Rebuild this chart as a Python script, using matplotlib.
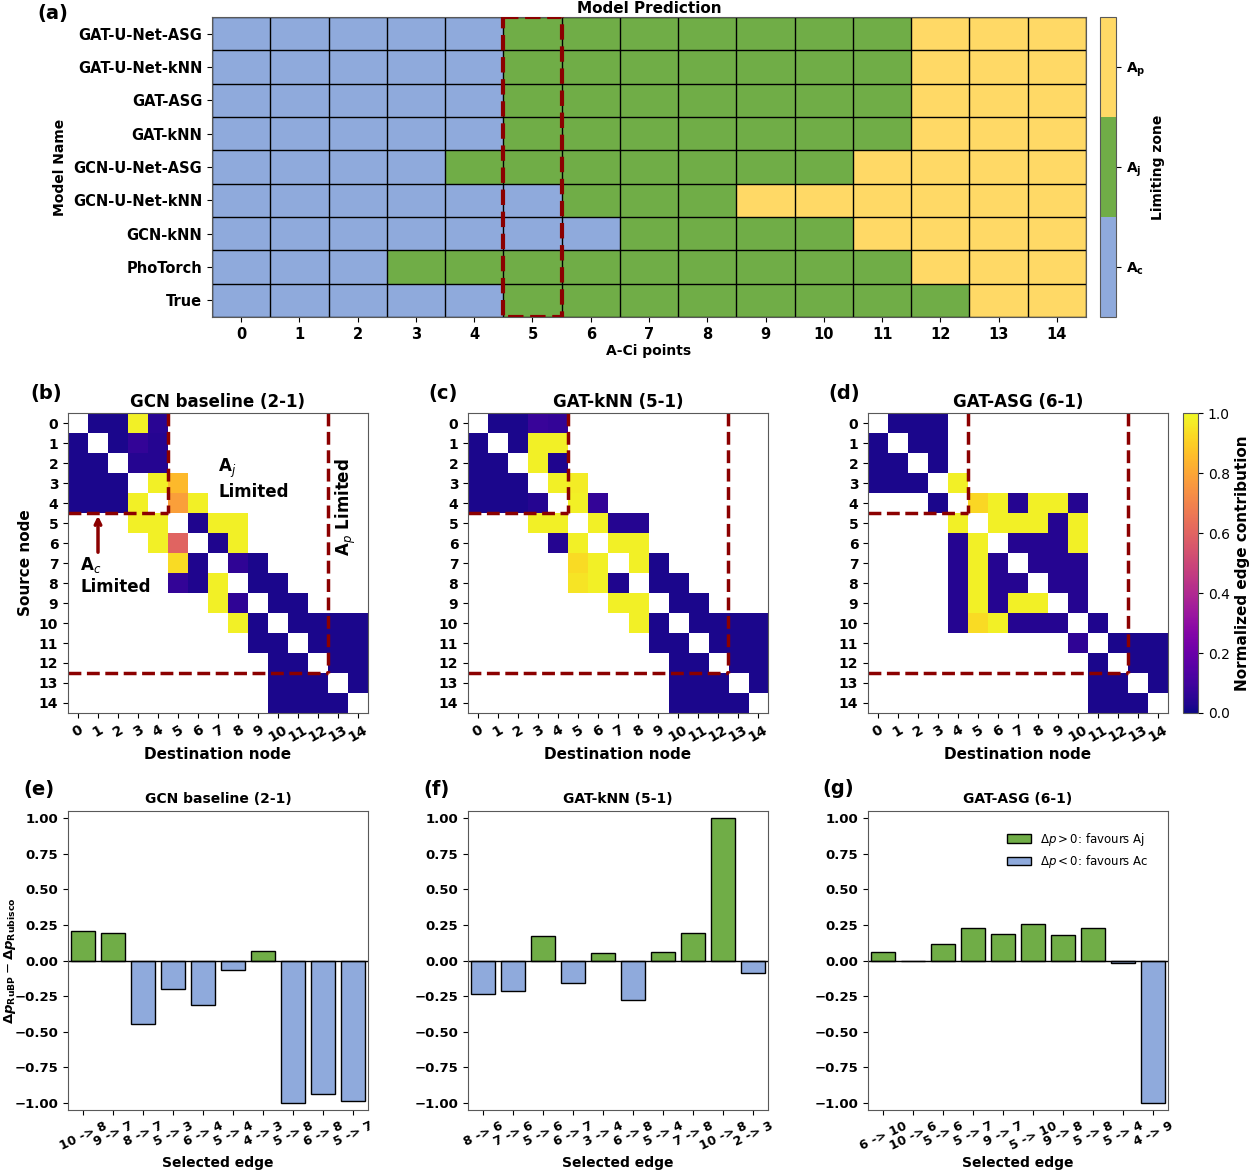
import numpy as np
import matplotlib
matplotlib.use("Agg")
import matplotlib.pyplot as plt
from matplotlib.colors import ListedColormap
from matplotlib.patches import Rectangle, Patch

# ============================================
# DATA
# ============================================

model_names = ["GAT-U-Net-ASG", "GAT-U-Net-kNN", "GAT-ASG", "GAT-kNN",
               "GCN-U-Net-ASG", "GCN-U-Net-kNN", "GCN-kNN", "PhoTorch", "True"]

# 0 = Ac, 1 = Aj, 2 = Ap for each A-Ci point 0..14
zones = [
    [0, 0, 0, 0, 0, 1, 1, 1, 1, 1, 1, 1, 2, 2, 2],
    [0, 0, 0, 0, 0, 1, 1, 1, 1, 1, 1, 1, 2, 2, 2],
    [0, 0, 0, 0, 0, 1, 1, 1, 1, 1, 1, 1, 2, 2, 2],
    [0, 0, 0, 0, 0, 1, 1, 1, 1, 1, 1, 1, 2, 2, 2],
    [0, 0, 0, 0, 1, 1, 1, 1, 1, 1, 1, 2, 2, 2, 2],
    [0, 0, 0, 0, 0, 0, 1, 1, 1, 2, 2, 2, 2, 2, 2],
    [0, 0, 0, 0, 0, 0, 0, 1, 1, 1, 1, 2, 2, 2, 2],
    [0, 0, 0, 1, 1, 1, 1, 1, 1, 1, 1, 1, 2, 2, 2],
    [0, 0, 0, 0, 0, 1, 1, 1, 1, 1, 1, 1, 1, 2, 2],
]
zone_labels = [r"$\mathbf{A_c}$", r"$\mathbf{A_j}$", r"$\mathbf{A_p}$"]

n = np.nan

# normalized edge contribution, rows = source node, cols = destination node
gcn_edges = [
    [n, .02, .02, .98, .05, n, n, n, n, n, n, n, n, n, n],
    [.02, n, .02, .07, .04, n, n, n, n, n, n, n, n, n, n],
    [.02, .02, n, .04, .04, n, n, n, n, n, n, n, n, n, n],
    [.02, .02, .02, n, .98, .85, n, n, n, n, n, n, n, n, n],
    [.02, .02, .02, .98, n, .78, .98, n, n, n, n, n, n, n, n],
    [n, n, n, .98, .98, n, .03, .98, .98, n, n, n, n, n, n],
    [n, n, n, n, .98, .60, n, .03, .98, n, n, n, n, n, n],
    [n, n, n, n, n, .93, .03, n, .06, .02, n, n, n, n, n],
    [n, n, n, n, n, .07, .03, .98, n, .02, .02, n, n, n, n],
    [n, n, n, n, n, n, n, .98, .06, n, .02, .02, n, n, n],
    [n, n, n, n, n, n, n, n, .98, .02, n, .02, .02, .02, .02],
    [n, n, n, n, n, n, n, n, n, .02, .02, n, .02, .02, .02],
    [n, n, n, n, n, n, n, n, n, n, .02, .02, n, .02, .02],
    [n, n, n, n, n, n, n, n, n, n, .02, .02, .02, n, .02],
    [n, n, n, n, n, n, n, n, n, n, .02, .02, .02, .02, n],
]

gat_knn_edges = [
    [n, .02, .02, .08, .07, n, n, n, n, n, n, n, n, n, n],
    [.02, n, .02, .98, .98, n, n, n, n, n, n, n, n, n, n],
    [.02, .02, n, .98, .03, n, n, n, n, n, n, n, n, n, n],
    [.02, .02, .02, n, .98, .97, n, n, n, n, n, n, n, n, n],
    [.02, .02, .02, .04, n, .98, .07, n, n, n, n, n, n, n, n],
    [n, n, n, .98, .98, n, .98, .04, .04, n, n, n, n, n, n],
    [n, n, n, n, .04, .98, n, .98, .98, n, n, n, n, n, n],
    [n, n, n, n, n, .93, .98, n, .98, .02, n, n, n, n, n],
    [n, n, n, n, n, .95, .98, .03, n, .02, .02, n, n, n, n],
    [n, n, n, n, n, n, n, .98, .98, n, .02, .02, n, n, n],
    [n, n, n, n, n, n, n, n, .98, .02, n, .02, .02, .02, .02],
    [n, n, n, n, n, n, n, n, n, .02, .02, n, .02, .02, .02],
    [n, n, n, n, n, n, n, n, n, n, .02, .02, n, .02, .02],
    [n, n, n, n, n, n, n, n, n, n, .02, .02, .02, n, .02],
    [n, n, n, n, n, n, n, n, n, n, .02, .02, .02, .02, n],
]

gat_asg_edges = [
    [n, .02, .02, .02, n, n, n, n, n, n, n, n, n, n, n],
    [.02, n, .02, .02, n, n, n, n, n, n, n, n, n, n, n],
    [.02, .02, n, .02, n, n, n, n, n, n, n, n, n, n, n],
    [.02, .02, .02, n, .98, n, n, n, n, n, n, n, n, n, n],
    [n, n, n, .02, n, .92, .98, .04, .98, .98, .04, n, n, n, n],
    [n, n, n, n, .98, n, .98, .98, .98, .04, .98, n, n, n, n],
    [n, n, n, n, .04, .98, n, .04, .04, .04, .98, n, n, n, n],
    [n, n, n, n, .04, .98, .04, n, .04, .04, .04, n, n, n, n],
    [n, n, n, n, .04, .98, .04, .04, n, .04, .04, n, n, n, n],
    [n, n, n, n, .04, .98, .04, .98, .98, n, .04, n, n, n, n],
    [n, n, n, n, .04, .93, .98, .04, .04, .04, n, .03, n, n, n],
    [n, n, n, n, n, n, n, n, n, n, .06, n, .02, .02, .02],
    [n, n, n, n, n, n, n, n, n, n, n, .02, n, .02, .02],
    [n, n, n, n, n, n, n, n, n, n, n, .02, .02, n, .02],
    [n, n, n, n, n, n, n, n, n, n, n, .02, .02, .02, n],
]

heat_titles = ["GCN baseline (2-1)", "GAT-kNN (5-1)", "GAT-ASG (6-1)"]

gcn_bar_edges = ["10 -> 8", "9 -> 7", "8 -> 7", "5 -> 3", "6 -> 4",
                 "5 -> 4", "4 -> 3", "5 -> 8", "6 -> 8", "5 -> 7"]
gcn_bar_vals = [0.21, 0.19, -0.445, -0.203, -0.315, -0.07, 0.07, -1.0, -0.935, -0.986]

gat_knn_bar_edges = ["8 -> 6", "7 -> 6", "5 -> 6", "6 -> 7", "3 -> 4",
                     "6 -> 8", "5 -> 4", "7 -> 8", "10 -> 8", "2 -> 3"]
gat_knn_bar_vals = [-0.238, -0.212, 0.175, -0.161, 0.051, -0.277, 0.063, 0.196, 1.0, -0.089]

gat_asg_bar_edges = ["6 -> 10", "10 -> 6", "5 -> 6", "5 -> 7", "9 -> 7",
                     "5 -> 10", "9 -> 8", "5 -> 8", "5 -> 4", "4 -> 9"]
gat_asg_bar_vals = [0.058, -0.005, 0.119, 0.231, 0.184, 0.254, 0.18, 0.231, -0.019, -1.0]

# ============================================
# STYLE
# ============================================

plt.rcParams["font.family"] = "DejaVu Sans"
plt.rcParams["axes.labelweight"] = "bold"
plt.rcParams["axes.titleweight"] = "bold"

AC_COL = "#8faadc"
AJ_COL = "#70ad47"
AP_COL = "#ffd966"
RED = "#8b0000"
SPINE = "0.35"

W, H = 1256, 1170
fig = plt.figure(figsize=(W / 100, H / 100), dpi=100)


def box(left, top, right, bottom):
    return [left / W, 1 - bottom / H, (right - left) / W, (bottom - top) / H]


def grey_spines(ax):
    for s in ax.spines.values():
        s.set_color(SPINE)


def bold_ticks(ax):
    for lbl in ax.get_xticklabels() + ax.get_yticklabels():
        lbl.set_fontweight("bold")


# ============================================
# (a) MODEL PREDICTION
# ============================================

ax_a = fig.add_axes(box(212, 17, 1086, 317))
zone_cmap = ListedColormap([AC_COL, AJ_COL, AP_COL])
im_a = ax_a.imshow(np.array(zones), cmap=zone_cmap, vmin=-0.5, vmax=2.5,
                   aspect="auto", interpolation="nearest")
ax_a.set_xticks(np.arange(15))
ax_a.set_yticks(np.arange(len(model_names)))
ax_a.set_yticklabels(model_names)
ax_a.set_xticks(np.arange(-0.5, 15, 1), minor=True)
ax_a.set_yticks(np.arange(-0.5, len(model_names), 1), minor=True)
ax_a.grid(which="minor", color="black", linewidth=1)
ax_a.tick_params(which="minor", length=0)
ax_a.tick_params(labelsize=10.5)
ax_a.set_xlabel("A-Ci points", fontsize=10, labelpad=2)
ax_a.set_ylabel("Model Name", fontsize=10)
ax_a.set_title("Model Prediction", fontsize=11, pad=3)
ax_a.add_patch(Rectangle((4.5, -0.5), 1, len(model_names), fill=False,
                         edgecolor=RED, linewidth=3, linestyle="--", zorder=5))
bold_ticks(ax_a)
grey_spines(ax_a)

cax_a = fig.add_axes(box(1100, 17, 1116, 317))
cb_a = fig.colorbar(im_a, cax=cax_a, ticks=[0, 1, 2])
cb_a.ax.set_yticklabels(zone_labels, fontsize=10)
cb_a.set_label("Limiting zone", fontsize=10)
cb_a.outline.set_edgecolor(SPINE)

# ============================================
# (b)-(d) EDGE CONTRIBUTION HEATMAPS
# ============================================

cmap = plt.get_cmap("plasma").copy()
cmap.set_bad("white")

heat_data = [gcn_edges, gat_knn_edges, gat_asg_edges]
heat_lefts = [68, 468, 868]
heat_axes = []
for i, (mat, title, left) in enumerate(zip(heat_data, heat_titles, heat_lefts)):
    ax = fig.add_axes(box(left, 413, left + 300, 713))
    im = ax.imshow(np.ma.masked_invalid(np.array(mat)), cmap=cmap,
                   vmin=0, vmax=1, interpolation="nearest")
    ax.set_xticks(np.arange(15))
    ax.set_yticks(np.arange(15))
    ax.set_xticklabels([str(k) for k in range(15)], rotation=30, fontsize=10)
    ax.tick_params(axis="y", labelsize=10)
    ax.set_xlabel("Destination node", fontsize=11, labelpad=2)
    if i == 0:
        ax.set_ylabel("Source node", fontsize=11)
    ax.set_title(title, fontsize=12, pad=4)
    # limiting zone boundaries
    ax.plot([-0.5, 4.5], [4.5, 4.5], color=RED, lw=2.5, ls="--")
    ax.plot([4.5, 4.5], [-0.5, 4.5], color=RED, lw=2.5, ls="--")
    ax.plot([-0.5, 12.5], [12.5, 12.5], color=RED, lw=2.5, ls="--")
    ax.plot([12.5, 12.5], [-0.5, 12.5], color=RED, lw=2.5, ls="--")
    ax.set_xlim(-0.5, 14.5)
    ax.set_ylim(14.5, -0.5)
    bold_ticks(ax)
    grey_spines(ax)
    heat_axes.append(ax)

ax_b = heat_axes[0]
ax_b.text(7.0, 1.7, "A$_j$\nLimited", fontsize=12, fontweight="bold",
          va="top", ha="left")
ax_b.text(0.1, 6.6, "A$_c$\nLimited", fontsize=12, fontweight="bold",
          va="top", ha="left")
ax_b.text(13.4, 4.2, "A$_p$ Limited", fontsize=12, fontweight="bold",
          rotation=90, va="center", ha="center")
ax_b.annotate("", xy=(1.0, 4.5), xytext=(1.0, 6.6),
              arrowprops=dict(arrowstyle="->", color=RED, lw=2.5))

cax_h = fig.add_axes(box(1183, 413, 1198, 713))
cb_h = fig.colorbar(im, cax=cax_h, ticks=[0, 0.2, 0.4, 0.6, 0.8, 1.0])
cb_h.ax.set_yticklabels(["0.0", "0.2", "0.4", "0.6", "0.8", "1.0"], fontsize=10)
cb_h.set_label("Normalized edge contribution", fontsize=11)
cb_h.outline.set_edgecolor(SPINE)

# ============================================
# (e)-(g) EDGE PERTURBATION BARS
# ============================================

bar_edges = [gcn_bar_edges, gat_knn_bar_edges, gat_asg_bar_edges]
bar_vals = [gcn_bar_vals, gat_knn_bar_vals, gat_asg_bar_vals]

for i, (labels, vals, title, left) in enumerate(zip(bar_edges, bar_vals,
                                                   heat_titles, heat_lefts)):
    ax = fig.add_axes(box(left, 811, left + 300, 1110))
    colors = [AJ_COL if v > 0 else AC_COL for v in vals]
    ax.bar(np.arange(len(vals)), vals, width=0.8, color=colors,
           edgecolor="black", linewidth=1)
    ax.axhline(0, color="black", linewidth=1)
    ax.set_xlim(-0.5, len(vals) - 0.5)
    ax.set_ylim(-1.05, 1.05)
    ax.set_yticks([-1.0, -0.75, -0.5, -0.25, 0.0, 0.25, 0.5, 0.75, 1.0])
    ax.set_yticklabels(["\u22121.00", "\u22120.75", "\u22120.50", "\u22120.25",
                        "0.00", "0.25", "0.50", "0.75", "1.00"])
    ax.set_xticks(np.arange(len(vals)))
    ax.set_xticklabels(labels, rotation=25, fontsize=9)
    ax.tick_params(axis="y", labelsize=9.5)
    ax.set_xlabel("Selected edge", fontsize=10, labelpad=2)
    ax.set_title(title, fontsize=10, pad=6)
    if i == 0:
        ax.set_ylabel(r"$\mathbf{\Delta}\mathbfit{p}_{\mathbf{RuBP}}"
                      r" - \mathbf{\Delta}\mathbfit{p}_{\mathbf{Rubisco}}$",
                      fontsize=9.5)
        ax.yaxis.set_label_coords(-0.165, 0.5)
    if i == 2:
        handles = [Patch(facecolor=AJ_COL, edgecolor="black",
                         label=r"$\Delta p > 0$: favours Aj"),
                   Patch(facecolor=AC_COL, edgecolor="black",
                         label=r"$\Delta p < 0$: favours Ac")]
        ax.legend(handles=handles, loc="upper right", frameon=False,
                  fontsize=8.5, bbox_to_anchor=(0.97, 0.97))
    bold_ticks(ax)
    grey_spines(ax)

# ============================================
# PANEL LETTERS
# ============================================

letters = [("(a)", 37, 14), ("(b)", 30, 394), ("(c)", 428, 394),
           ("(d)", 828, 394), ("(e)", 23, 789), ("(f)", 423, 789),
           ("(g)", 822, 789)]
for txt, x, y in letters:
    fig.text(x / W, 1 - y / H, txt, fontsize=14, fontweight="bold",
             ha="left", va="center")

fig.savefig("out.png", dpi=100)
